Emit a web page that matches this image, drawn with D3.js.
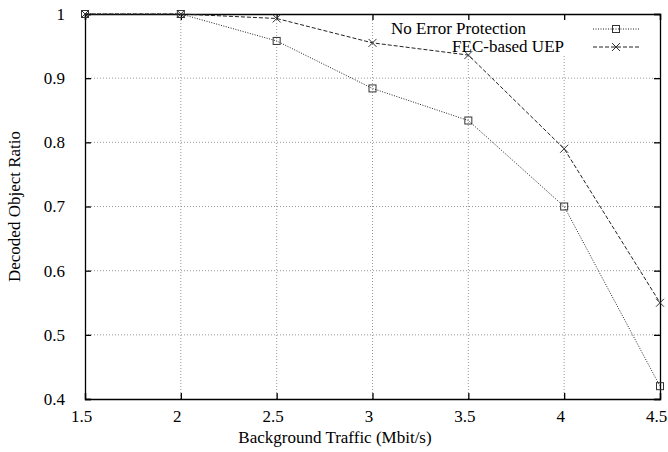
<!DOCTYPE html>
<html>
<head>
<meta charset="utf-8">
<script src="https://cdn.jsdelivr.net/npm/d3@7"></script>
<style>
  body { margin: 0; background: #fff; }
  text { font-family: "Liberation Serif", "DejaVu Serif", serif; fill: #000; }
</style>
</head>
<body>
<script>
// data
let traffic = [1.5, 2, 2.5, 3, 3.5, 4, 4.5]
let noProtection = [1.0, 1.0, 0.958, 0.884, 0.834, 0.700, 0.420]
let fecUep = [1.0, 1.0, 0.993, 0.955, 0.936, 0.790, 0.550]
let xTicks = [1.5, 2, 2.5, 3, 3.5, 4, 4.5]
let yTicks = [0.4, 0.5, 0.6, 0.7, 0.8, 0.9, 1]
let seriesNames = ["No Error Protection", "FEC-based UEP"]

let W = 668, H = 452
let pLeft = 85, pRight = 660, pTop = 14, pBottom = 399
let fs = '17px'

let svg = d3.select('body')
    .append('svg')
    .attr('width', W)
    .attr('height', H)

let x = d3.scaleLinear().domain([1.5, 4.5]).range([pLeft, pRight])
let y = d3.scaleLinear().domain([0.4, 1]).range([pBottom, pTop])

//grid
let grid = svg.append('g')
grid.selectAll('.gx').data(xTicks.slice(1, -1)).enter().append('line')
    .attr('x1', d => x(d)).attr('x2', d => x(d))
    .attr('y1', pTop).attr('y2', pBottom)
    .style('stroke', '#999').style('stroke-width', 1)
    .style('stroke-dasharray', '1,2')
grid.selectAll('.gy').data(yTicks.slice(1, -1)).enter().append('line')
    .attr('x1', pLeft).attr('x2', pRight)
    .attr('y1', d => y(d)).attr('y2', d => y(d))
    .style('stroke', '#999').style('stroke-width', 1)
    .style('stroke-dasharray', '1,2')

//legend background hides grid
svg.append('rect')
    .attr('x', 376).attr('y', 16)
    .attr('width', 282).attr('height', 38)
    .style('fill', '#fff')

//axes, ticks inside on all sides
svg.append('g').attr('transform', `translate(0,${pBottom})`)
    .call(d3.axisBottom(x).tickValues(xTicks).tickSize(-6).tickPadding(11).tickFormat(d3.format('')))
    .selectAll('text').attr('dx', -4)
svg.append('g').attr('transform', `translate(0,${pTop})`)
    .call(d3.axisTop(x).tickValues(xTicks).tickSize(-6).tickFormat(''))
svg.append('g').attr('transform', `translate(${pLeft},0)`)
    .call(d3.axisLeft(y).tickValues(yTicks).tickSize(-6).tickPadding(20).tickFormat(d3.format('')))
svg.append('g').attr('transform', `translate(${pRight},0)`)
    .call(d3.axisRight(y).tickValues(yTicks).tickSize(-6).tickFormat(''))
svg.selectAll('.domain').style('stroke', '#000').style('stroke-width', 1.3)
svg.selectAll('.tick line').style('stroke', '#000').style('stroke-width', 1.3)
svg.selectAll('.tick text').style('font-size', fs).style('font-family', '"Liberation Serif", serif')

//axis labels
svg.append('text')
    .attr('x', 335).attr('y', 443)
    .attr('text-anchor', 'middle')
    .style('font-size', fs)
    .text('Background Traffic (Mbit/s)')
svg.append('text')
    .attr('transform', `translate(20,${(pTop + pBottom) / 2}) rotate(-90)`)
    .attr('text-anchor', 'middle')
    .style('font-size', fs)
    .text('Decoded Object Ratio')

//lines
let line = d3.line().x((d, i) => x(traffic[i])).y(d => y(d))
svg.append('path').datum(noProtection)
    .attr('d', line)
    .style('fill', 'none').style('stroke', '#222').style('stroke-width', 1)
    .style('stroke-dasharray', '1,1.5')
svg.append('path').datum(fecUep)
    .attr('d', line)
    .style('fill', 'none').style('stroke', '#222').style('stroke-width', 1)
    .style('stroke-dasharray', '4,2')

//markers
function square(g, cx, cy) {
  g.append('rect')
      .attr('x', cx - 3.5).attr('y', cy - 3.5)
      .attr('width', 7).attr('height', 7)
      .style('fill', 'none').style('stroke', '#333').style('stroke-width', 1)
}
function cross(g, cx, cy) {
  g.append('path')
      .attr('d', `M${cx - 4},${cy - 4}L${cx + 4},${cy + 4}M${cx - 4},${cy + 4}L${cx + 4},${cy - 4}`)
      .style('stroke', '#333').style('stroke-width', 1)
}
let marks = svg.append('g')
noProtection.forEach((v, i) => square(marks, x(traffic[i]), y(v)))
fecUep.forEach((v, i) => cross(marks, x(traffic[i]), y(v)))

//legend
let leg = svg.append('g')
leg.append('text').attr('x', 526).attr('y', 34).attr('text-anchor', 'end')
    .style('font-size', fs).text(seriesNames[0])
leg.append('text').attr('x', 564).attr('y', 52).attr('text-anchor', 'end')
    .style('font-size', fs).text(seriesNames[1])
leg.append('line').attr('x1', 593).attr('x2', 640).attr('y1', 29).attr('y2', 29)
    .style('stroke', '#222').style('stroke-dasharray', '1,1.5')
square(leg, 616, 29)
leg.append('line').attr('x1', 593).attr('x2', 640).attr('y1', 47).attr('y2', 47)
    .style('stroke', '#222').style('stroke-dasharray', '4,2')
cross(leg, 616, 47)
</script>
</body>
</html>
